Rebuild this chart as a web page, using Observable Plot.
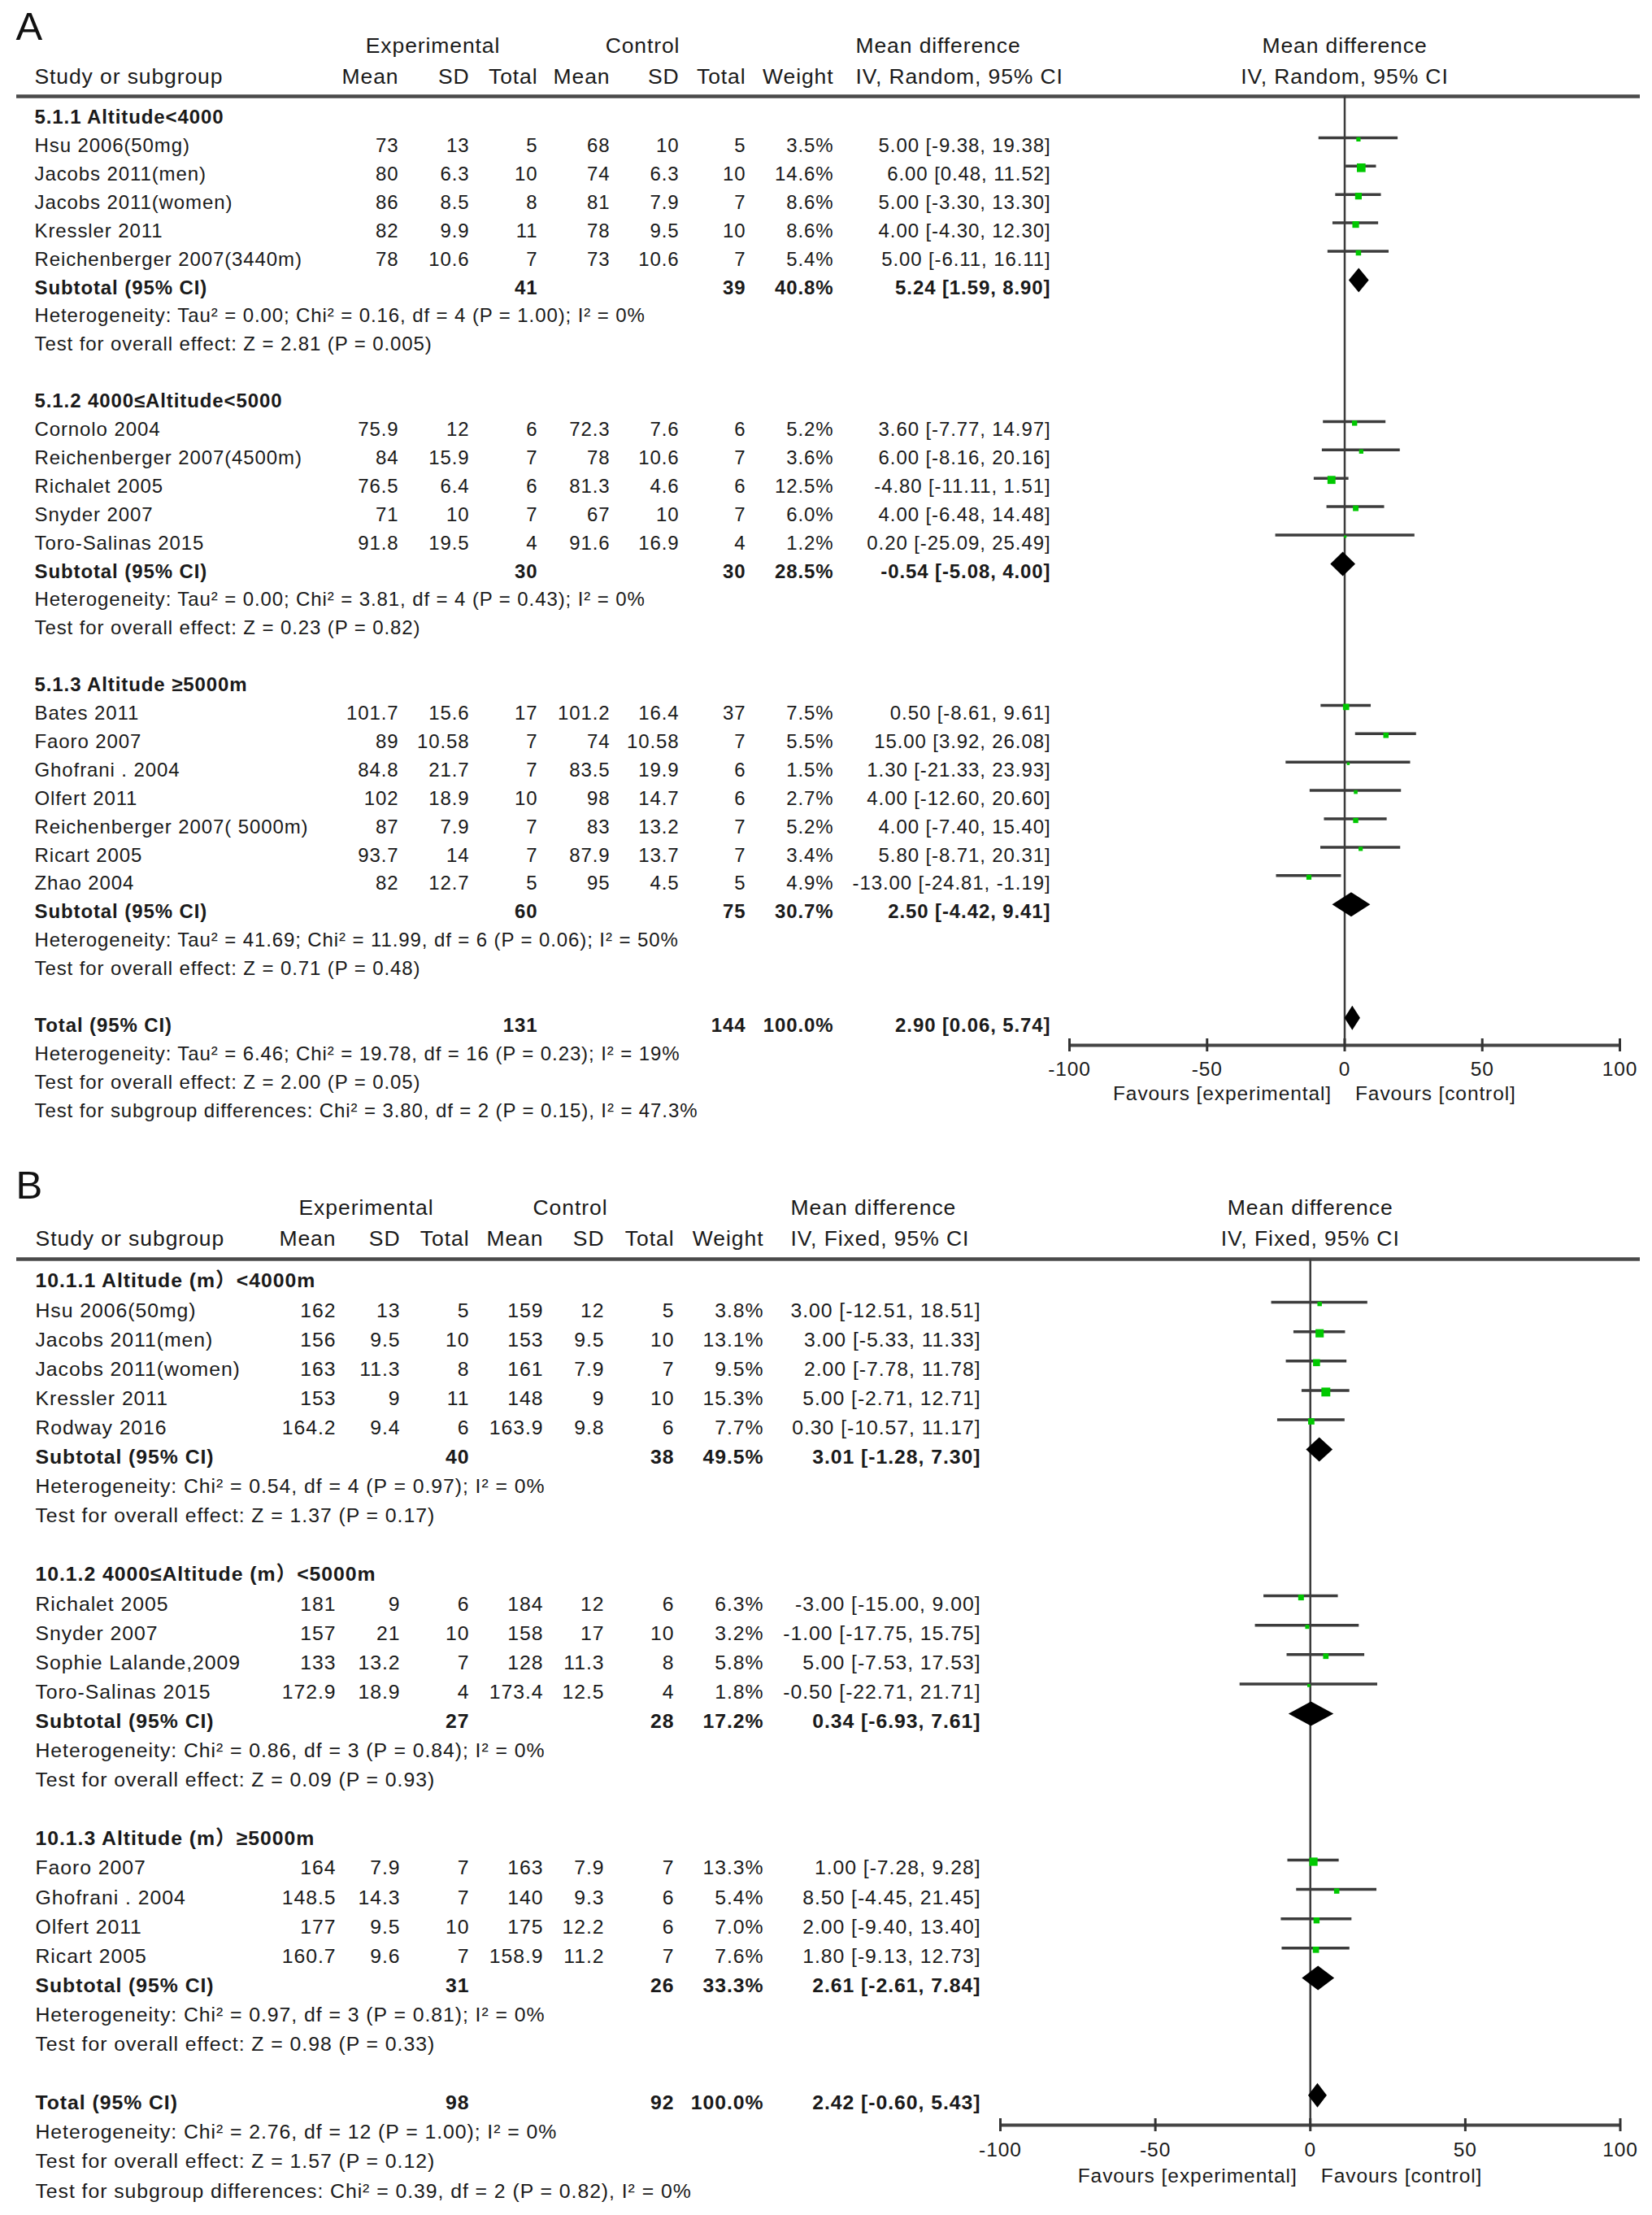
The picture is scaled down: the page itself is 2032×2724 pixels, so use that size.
<!DOCTYPE html>
<html>
<head>
<meta charset="utf-8">
<script src="https://cdn.jsdelivr.net/npm/d3@7"></script>
<script src="https://cdn.jsdelivr.net/npm/@observablehq/plot@0.6"></script>
<style>
  html, body { margin: 0; padding: 0; background: #fff; }
  #chart { width: 2032px; }
  #chart svg { display: block; }
</style>
</head>
<body>
<div id="chart"></div>
<script>
// ================= Panel A data =================
const subgroupsA = ["5.1.1 Altitude<4000", "5.1.2 4000≤Altitude<5000", "5.1.3 Altitude ≥5000m"];
const studiesA = ["Hsu 2006(50mg)", "Jacobs 2011(men)", "Jacobs 2011(women)", "Kressler 2011", "Reichenberger 2007(3440m)",
  "Cornolo 2004", "Reichenberger 2007(4500m)", "Richalet 2005", "Snyder 2007", "Toro-Salinas 2015",
  "Bates 2011", "Faoro 2007", "Ghofrani . 2004", "Olfert 2011", "Reichenberger 2007( 5000m)", "Ricart 2005", "Zhao 2004"];
const studyGroupA = [0, 0, 0, 0, 0, 1, 1, 1, 1, 1, 2, 2, 2, 2, 2, 2, 2];
const expMeanA = [73, 80, 86, 82, 78, 75.9, 84, 76.5, 71, 91.8, 101.7, 89, 84.8, 102, 87, 93.7, 82];
const expSDA = [13, 6.3, 8.5, 9.9, 10.6, 12, 15.9, 6.4, 10, 19.5, 15.6, 10.58, 21.7, 18.9, 7.9, 14, 12.7];
const expNA = [5, 10, 8, 11, 7, 6, 7, 6, 7, 4, 17, 7, 7, 10, 7, 7, 5];
const ctlMeanA = [68, 74, 81, 78, 73, 72.3, 78, 81.3, 67, 91.6, 101.2, 74, 83.5, 98, 83, 87.9, 95];
const ctlSDA = [10, 6.3, 7.9, 9.5, 10.6, 7.6, 10.6, 4.6, 10, 16.9, 16.4, 10.58, 19.9, 14.7, 13.2, 13.7, 4.5];
const ctlNA = [5, 10, 7, 10, 7, 6, 7, 6, 7, 4, 37, 7, 6, 6, 7, 7, 5];
const weightA = [3.5, 14.6, 8.6, 8.6, 5.4, 5.2, 3.6, 12.5, 6.0, 1.2, 7.5, 5.5, 1.5, 2.7, 5.2, 3.4, 4.9];
const mdA = [5, 6, 5, 4, 5, 3.6, 6, -4.8, 4, 0.2, 0.5, 15, 1.3, 4, 4, 5.8, -13];
const loA = [-9.38, 0.48, -3.30, -4.30, -6.11, -7.77, -8.16, -11.11, -6.48, -25.09, -8.61, 3.92, -21.33, -12.60, -7.40, -8.71, -24.81];
const hiA = [19.38, 11.52, 13.30, 12.30, 16.11, 14.97, 20.16, 1.51, 14.48, 25.49, 9.61, 26.08, 23.93, 20.60, 15.40, 20.31, -1.19];
const subExpNA = [41, 30, 60];
const subCtlNA = [39, 30, 75];
const subWeightA = [40.8, 28.5, 30.7];
const subMdA = [5.24, -0.54, 2.50];
const subLoA = [1.59, -5.08, -4.42];
const subHiA = [8.90, 4.00, 9.41];
const hetA = [
  "Heterogeneity: Tau² = 0.00; Chi² = 0.16, df = 4 (P = 1.00); I² = 0%",
  "Heterogeneity: Tau² = 0.00; Chi² = 3.81, df = 4 (P = 0.43); I² = 0%",
  "Heterogeneity: Tau² = 41.69; Chi² = 11.99, df = 6 (P = 0.06); I² = 50%"];
const testA = [
  "Test for overall effect: Z = 2.81 (P = 0.005)",
  "Test for overall effect: Z = 0.23 (P = 0.82)",
  "Test for overall effect: Z = 0.71 (P = 0.48)"];
const totalNA = [131, 144];
const totalWeightA = 100.0;
const totalCIA = [2.90, 0.06, 5.74];
const footA = [
  "Heterogeneity: Tau² = 6.46; Chi² = 19.78, df = 16 (P = 0.23); I² = 19%",
  "Test for overall effect: Z = 2.00 (P = 0.05)",
  "Test for subgroup differences: Chi² = 3.80, df = 2 (P = 0.15), I² = 47.3%"];

// ================= Panel B data =================
const subgroupsB = ["10.1.1 Altitude (m）<4000m", "10.1.2 4000≤Altitude (m）<5000m", "10.1.3 Altitude (m）≥5000m"];
const studiesB = ["Hsu 2006(50mg)", "Jacobs 2011(men)", "Jacobs 2011(women)", "Kressler 2011", "Rodway 2016",
  "Richalet 2005", "Snyder 2007", "Sophie Lalande,2009", "Toro-Salinas 2015",
  "Faoro 2007", "Ghofrani . 2004", "Olfert 2011", "Ricart 2005"];
const studyGroupB = [0, 0, 0, 0, 0, 1, 1, 1, 1, 2, 2, 2, 2];
const expMeanB = [162, 156, 163, 153, 164.2, 181, 157, 133, 172.9, 164, 148.5, 177, 160.7];
const expSDB = [13, 9.5, 11.3, 9, 9.4, 9, 21, 13.2, 18.9, 7.9, 14.3, 9.5, 9.6];
const expNB = [5, 10, 8, 11, 6, 6, 10, 7, 4, 7, 7, 10, 7];
const ctlMeanB = [159, 153, 161, 148, 163.9, 184, 158, 128, 173.4, 163, 140, 175, 158.9];
const ctlSDB = [12, 9.5, 7.9, 9, 9.8, 12, 17, 11.3, 12.5, 7.9, 9.3, 12.2, 11.2];
const ctlNB = [5, 10, 7, 10, 6, 6, 10, 8, 4, 7, 6, 6, 7];
const weightB = [3.8, 13.1, 9.5, 15.3, 7.7, 6.3, 3.2, 5.8, 1.8, 13.3, 5.4, 7.0, 7.6];
const mdB = [3, 3, 2, 5, 0.3, -3, -1, 5, -0.5, 1, 8.5, 2, 1.8];
const loB = [-12.51, -5.33, -7.78, -2.71, -10.57, -15.00, -17.75, -7.53, -22.71, -7.28, -4.45, -9.40, -9.13];
const hiB = [18.51, 11.33, 11.78, 12.71, 11.17, 9.00, 15.75, 17.53, 21.71, 9.28, 21.45, 13.40, 12.73];
const subExpNB = [40, 27, 31];
const subCtlNB = [38, 28, 26];
const subWeightB = [49.5, 17.2, 33.3];
const subMdB = [3.01, 0.34, 2.61];
const subLoB = [-1.28, -6.93, -2.61];
const subHiB = [7.30, 7.61, 7.84];
const hetB = [
  "Heterogeneity: Chi² = 0.54, df = 4 (P = 0.97); I² = 0%",
  "Heterogeneity: Chi² = 0.86, df = 3 (P = 0.84); I² = 0%",
  "Heterogeneity: Chi² = 0.97, df = 3 (P = 0.81); I² = 0%"];
const testB = [
  "Test for overall effect: Z = 1.37 (P = 0.17)",
  "Test for overall effect: Z = 0.09 (P = 0.93)",
  "Test for overall effect: Z = 0.98 (P = 0.33)"];
const totalNB = [98, 92];
const totalWeightB = 100.0;
const totalCIB = [2.42, -0.60, 5.43];
const footB = [
  "Heterogeneity: Chi² = 2.76, df = 12 (P = 1.00); I² = 0%",
  "Test for overall effect: Z = 1.57 (P = 0.12)",
  "Test for subgroup differences: Chi² = 0.39, df = 2 (P = 0.82), I² = 0%"];

// axis
const axisTicks = [-100, -50, 0, 50, 100];
const favourLabels = ["Favours [experimental]", "Favours [control]"];
const colHeaders = ["Study or subgroup", "Mean", "SD", "Total", "Mean", "SD", "Total", "Weight"];

// ================= build rows =================
function buildRows(d) {
  const rows = [];
  let i = 0;
  d.groups.forEach((g, gi) => {
    rows.push({i, kind: "group", label: g}); i++;
    d.study.forEach((s, si) => {
      if (d.studyGroup[si] !== gi) return;
      rows.push({i, kind: "study", label: s,
        expMean: d.expMean[si], expSD: d.expSD[si], expN: d.expN[si],
        ctlMean: d.ctlMean[si], ctlSD: d.ctlSD[si], ctlN: d.ctlN[si],
        weight: d.weight[si], md: d.md[si], lo: d.lo[si], hi: d.hi[si]});
      i++;
    });
    rows.push({i, kind: "sub", label: "Subtotal (95% CI)", expN: d.subExpN[gi], ctlN: d.subCtlN[gi],
      weight: d.subWeight[gi], md: d.subMd[gi], lo: d.subLo[gi], hi: d.subHi[gi]}); i++;
    rows.push({i, kind: "note", label: d.het[gi]}); i++;
    rows.push({i, kind: "note", label: d.test[gi]}); i++;
    i++; // blank line
  });
  rows.push({i, kind: "total", label: "Total (95% CI)", expN: d.totalN[0], ctlN: d.totalN[1],
    weight: d.totalWeight, md: d.totalCI[0], lo: d.totalCI[1], hi: d.totalCI[2]}); i++;
  d.foot.forEach(t => { rows.push({i, kind: "note", label: t}); i++; });
  return rows;
}

const FONT = '"Liberation Sans", Arial, "Noto Sans CJK SC", sans-serif';
const INK = "#1a1a1a";
const LINE = "#3c3c3c";
const GREEN = "#00c800";
const ML = 20, MR = 15;

function panel(d, L) {
  const rows = buildRows(d);
  const R = px => (px - L.i0) / L.pitch;           // layout pixel -> row units
  const studies = rows.filter(r => r.kind === "study");
  const summ = rows.filter(r => r.kind === "sub" || r.kind === "total");
  const boldLab = rows.filter(r => r.kind === "group" || r.kind === "sub" || r.kind === "total");
  const regLab = rows.filter(r => r.kind === "study" || r.kind === "note");
  const c = L.cols;
  const f2 = v => v.toFixed(2);
  const ci = r => `${f2(r.md)} [${f2(r.lo)}, ${f2(r.hi)}]`;
  const pct = r => r.weight.toFixed(1) + "%";
  const col = (data, pos, text, o = {}) =>
    Plot.text(data, {y: "i", text, frameAnchor: "left", dx: pos - ML, textAnchor: "end",
      fontSize: L.fs, fill: INK, ...o});
  const head = (txt, pos, yPx, anchor) =>
    Plot.text([txt], {text: t => t, frameAnchor: "top-left", dx: pos - ML, dy: yPx,
      textAnchor: anchor, lineAnchor: "middle", fontSize: L.hfs, fill: INK});
  const dia = summ.flatMap(r => [
    {k: r.i, x: r.lo, y1: r.i, y2: r.i},
    {k: r.i, x: r.md, y1: r.i - L.dh / L.pitch, y2: r.i + L.dh / L.pitch},
    {k: r.i, x: r.hi, y1: r.i, y2: r.i}]);
  const axisRow = R(L.axis);
  const tk = 8 / L.pitch;

  const svg = Plot.plot({
    width: 2032,
    height: L.height,
    marginLeft: ML, marginRight: MR, marginTop: 0, marginBottom: L.height - L.axis,
    style: {fontFamily: FONT, fontSize: L.fs + "px", letterSpacing: L.ls + "px", color: INK, background: "#fff", overflow: "visible"},
    x: {domain: [-100, 100], range: L.xRange},
    y: {domain: [0, 1], range: [L.i0, L.i0 + L.pitch], axis: null},
    r: {type: "sqrt", domain: [0, 16], range: [0, 6.3]},
    marks: [
      // panel letter
      Plot.text([L.letter], {text: t => t, frameAnchor: "top-left", dx: L.letterX - ML, dy: L.letterY,
        lineAnchor: "middle", textAnchor: "start", fontSize: 49, fill: "#111"}),
      // header rows
      head("Experimental", c.expC, L.head1, "middle"),
      head("Control", c.ctlC, L.head1, "middle"),
      head("Mean difference", c.ciL, L.head1, "start"),
      head(colHeaders[0], c.name, L.head2, "start"),
      head(colHeaders[1], c.expMean, L.head2, "end"),
      head(colHeaders[2], c.expSD, L.head2, "end"),
      head(colHeaders[3], c.expN, L.head2, "end"),
      head(colHeaders[4], c.ctlMean, L.head2, "end"),
      head(colHeaders[5], c.ctlSD, L.head2, "end"),
      head(colHeaders[6], c.ctlN, L.head2, "end"),
      head(colHeaders[7], c.weight, L.head2, "end"),
      head(L.method, c.ciL, L.head2, "start"),
      Plot.text([0], {x: d => d, text: () => "Mean difference", frameAnchor: "top", dy: L.head1,
        lineAnchor: "middle", textAnchor: "middle", fontSize: L.hfs, fill: INK}),
      Plot.text([0], {x: d => d, text: () => L.method, frameAnchor: "top", dy: L.head2,
        lineAnchor: "middle", textAnchor: "middle", fontSize: L.hfs, fill: INK}),
      // header rule
      Plot.ruleY([R(L.rule)], {y: d => d, stroke: "#4a4a4a", strokeWidth: 4.5}),
      // zero line
      Plot.ruleX([0], {x: d => d, y1: R(L.rule), y2: axisRow, stroke: LINE, strokeWidth: 2.5}),
      // row labels
      Plot.text(regLab, {y: "i", text: "label", frameAnchor: "left", dx: c.name - ML, textAnchor: "start", fontSize: L.fs, fill: INK}),
      Plot.text(boldLab, {y: "i", text: "label", frameAnchor: "left", dx: c.name - ML, textAnchor: "start", fontSize: L.fs, fontWeight: "bold", fill: INK}),
      // study columns
      col(studies, c.expMean, r => String(r.expMean)),
      col(studies, c.expSD, r => String(r.expSD)),
      col(studies, c.expN, r => String(r.expN)),
      col(studies, c.ctlMean, r => String(r.ctlMean)),
      col(studies, c.ctlSD, r => String(r.ctlSD)),
      col(studies, c.ctlN, r => String(r.ctlN)),
      col(studies, c.weight, pct),
      col(studies, c.ci, ci),
      // subtotal / total columns (bold)
      col(summ, c.expN, r => String(r.expN), {fontWeight: "bold"}),
      col(summ, c.ctlN, r => String(r.ctlN), {fontWeight: "bold"}),
      col(summ, c.weight, pct, {fontWeight: "bold"}),
      col(summ, c.ci, ci, {fontWeight: "bold"}),
      // confidence intervals
      Plot.ruleY(studies, {y: "i", x1: "lo", x2: "hi", stroke: LINE, strokeWidth: 3.5, dy: -10}),
      Plot.dot(studies, {x: "md", y: "i", r: "weight", symbol: "square", fill: GREEN, dy: -8}),
      // diamonds
      Plot.areaY(dia, {x: "x", y1: "y1", y2: "y2", z: "k", fill: "#000", curve: "linear", dy: -9}),
      // axis
      Plot.ruleY([axisRow], {y: d => d, x1: -100, x2: 100, stroke: "#454545", strokeWidth: 4}),
      Plot.ruleX(axisTicks, {x: d => d, y1: axisRow - tk, y2: axisRow + tk, stroke: "#333", strokeWidth: 3}),
      Plot.axisX({anchor: "bottom", ticks: axisTicks, tickSize: 0, tickPadding: L.tickPad, label: null,
        tickFormat: v => String(v), fontSize: L.tfs, fill: INK}),
      Plot.text([0], {x: d => d, y: () => R(L.fav), text: () => favourLabels[0], dx: L.favL, textAnchor: "end", fontSize: L.tfs, fill: INK}),
      Plot.text([0], {x: d => d, y: () => R(L.fav), text: () => favourLabels[1], dx: L.favR, textAnchor: "start", fontSize: L.tfs, fill: INK})
    ]
  });
  return svg;
}

const dataA = {groups: subgroupsA, study: studiesA, studyGroup: studyGroupA, expMean: expMeanA, expSD: expSDA, expN: expNA,
  ctlMean: ctlMeanA, ctlSD: ctlSDA, ctlN: ctlNA, weight: weightA, md: mdA, lo: loA, hi: hiA,
  subExpN: subExpNA, subCtlN: subCtlNA, subWeight: subWeightA, subMd: subMdA, subLo: subLoA, subHi: subHiA,
  het: hetA, test: testA, totalN: totalNA, totalWeight: totalWeightA, totalCI: totalCIA, foot: footA};
const dataB = {groups: subgroupsB, study: studiesB, studyGroup: studyGroupB, expMean: expMeanB, expSD: expSDB, expN: expNB,
  ctlMean: ctlMeanB, ctlSD: ctlSDB, ctlN: ctlNB, weight: weightB, md: mdB, lo: loB, hi: hiB,
  subExpN: subExpNB, subCtlN: subCtlNB, subWeight: subWeightB, subMd: subMdB, subLo: subLoB, subHi: subHiB,
  het: hetB, test: testB, totalN: totalNB, totalWeight: totalWeightB, totalCI: totalCIB, foot: footB};

// layout (pixels)
const layoutA = {
  letter: "A", letterX: 19, letterY: 33, height: 1420, i0: 144, pitch: 34.9,
  head1: 56, head2: 94.5, rule: 118, axis: 1285, fav: 1345, tickPad: 20,
  xRange: [1315, 1992], favL: -16, favR: 13, dh: 15,
  fs: 24, hfs: 26.5, tfs: 24.5, ls: 0.9, method: "IV, Random, 95% CI",
  cols: {name: 42, expMean: 490, expSD: 577, expN: 661, ctlMean: 750, ctlSD: 835, ctlN: 917, weight: 1025, ci: 1292, ciL: 1052, expC: 532, ctlC: 790}
};
const layoutB = {
  letter: "B", letterX: 19, letterY: 38, height: 1304, i0: 155, pitch: 36.1,
  head1: 65, head2: 103, rule: 128, axis: 1193, fav: 1256, tickPad: 21,
  xRange: [1230, 1992.5], favL: -16, favR: 13, dh: 15,
  fs: 24.8, hfs: 26.5, tfs: 24.5, ls: 0.95, method: "IV, Fixed, 95% CI",
  cols: {name: 43, expMean: 413, expSD: 492, expN: 577, ctlMean: 668, ctlSD: 743, ctlN: 829, weight: 939, ci: 1206, ciL: 972, expC: 450, ctlC: 701}
};

const chart = document.getElementById("chart");
chart.appendChild(panel(dataA, layoutA));
chart.appendChild(panel(dataB, layoutB));
</script>
</body>
</html>
